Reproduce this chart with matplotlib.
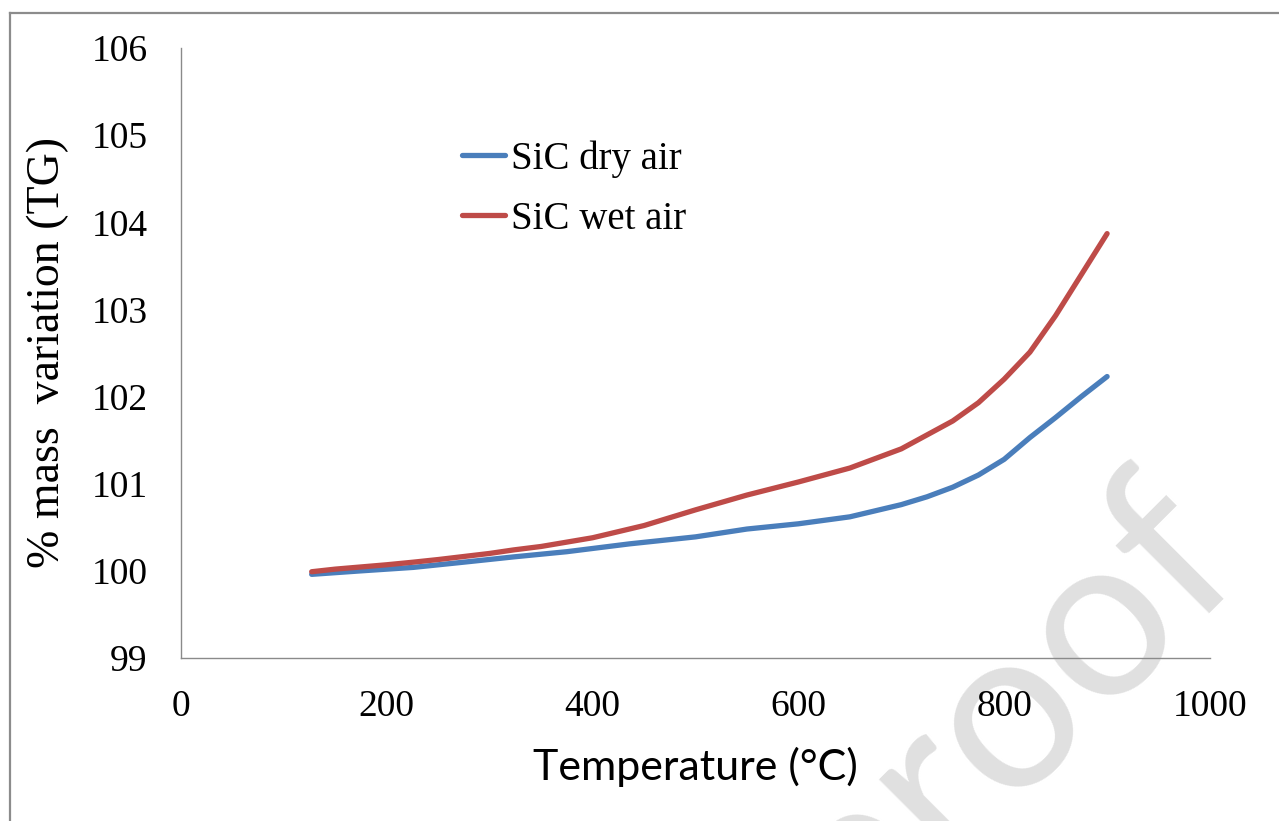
import matplotlib
matplotlib.use("Agg")
import matplotlib.pyplot as plt
from matplotlib.lines import Line2D

# temperatures (°C) and mass (%)
dry_temp = [127, 175, 226, 275, 323, 375, 436, 500, 550, 600, 650, 700, 725, 750, 775, 800, 825, 850, 875, 900]
dry_air = [99.96, 100.00, 100.04, 100.10, 100.16, 100.22, 100.31, 100.39, 100.48, 100.54,
           100.62, 100.76, 100.85, 100.96, 101.10, 101.28, 101.53, 101.76, 102.00, 102.23]

wet_temp = [127, 150, 200, 226, 250, 300, 323, 350, 400, 450, 500, 550, 600, 650, 700,
            725, 750, 775, 800, 825, 850, 875, 900]
wet_air = [99.99, 100.02, 100.07, 100.10, 100.13, 100.20, 100.24, 100.28, 100.38, 100.52,
           100.70, 100.87, 101.02, 101.18, 101.40, 101.56, 101.72, 101.93, 102.20, 102.51,
           102.93, 103.40, 103.87]

x_ticks = [0, 200, 400, 600, 800, 1000]
y_ticks = [99, 100, 101, 102, 103, 104, 105, 106]

serif = ['Liberation Serif', 'DejaVu Serif']

fig = plt.figure(figsize=(12.79, 8.21), dpi=100)
ax = fig.add_axes([181/1279, 1-658/821, (1210-181)/1279, (658-48)/821])
ax.patch.set_alpha(0)

ax.plot(dry_temp, dry_air, color='#4a7ebb', lw=3.8, label='SiC dry air', solid_capstyle='round')
ax.plot(wet_temp, wet_air, color='#be4b48', lw=3.8, label='SiC wet air', solid_capstyle='round')

ax.set_xlim(0, 1000)
ax.set_ylim(99, 106)
ax.set_xticks(x_ticks)
ax.set_yticks(y_ticks)
ax.set_xticklabels([str(t) for t in x_ticks], family=serif, fontsize=27)
ax.set_yticklabels([str(t) for t in y_ticks], family=serif, fontsize=27)
ax.tick_params(axis='x', length=0, pad=23)
ax.tick_params(axis='y', length=0, pad=24)

for s in ['top', 'right']:
    ax.spines[s].set_visible(False)
for s in ['left', 'bottom']:
    ax.spines[s].set_color('#8a8a8a')
    ax.spines[s].set_linewidth(1.0)

ax.set_xlabel('Temperature (°C)', family=['Lato', 'DejaVu Sans'], fontsize=31, labelpad=16)
ax.set_ylabel('% mass  variation (TG)', family=serif, fontsize=33, labelpad=16)

ax.legend(loc='upper left', bbox_to_anchor=(462/1279, 1-140/821), bbox_transform=fig.transFigure,
          frameon=False, prop={'family': serif, 'size': 28}, handlelength=1.1,
          handletextpad=0.15, labelspacing=0.6, borderaxespad=0, borderpad=0)

# watermark, behind the chart
fig.text(1005/1279, 1-710/821, 'proof', rotation=45, rotation_mode='anchor',
         ha='center', va='center', fontsize=165, color='#e0e0e0',
         family=['Lato', 'DejaVu Sans'], zorder=-1)

# outer frame (top and left edges)
fig.add_artist(Line2D([10/1279, 10/1279], [0, 1-13/821], transform=fig.transFigure, color='#8c8c8c', lw=1.6))
fig.add_artist(Line2D([10/1279, 1], [1-13/821, 1-13/821], transform=fig.transFigure, color='#8c8c8c', lw=1.6))

fig.savefig('out.png', dpi=100)
